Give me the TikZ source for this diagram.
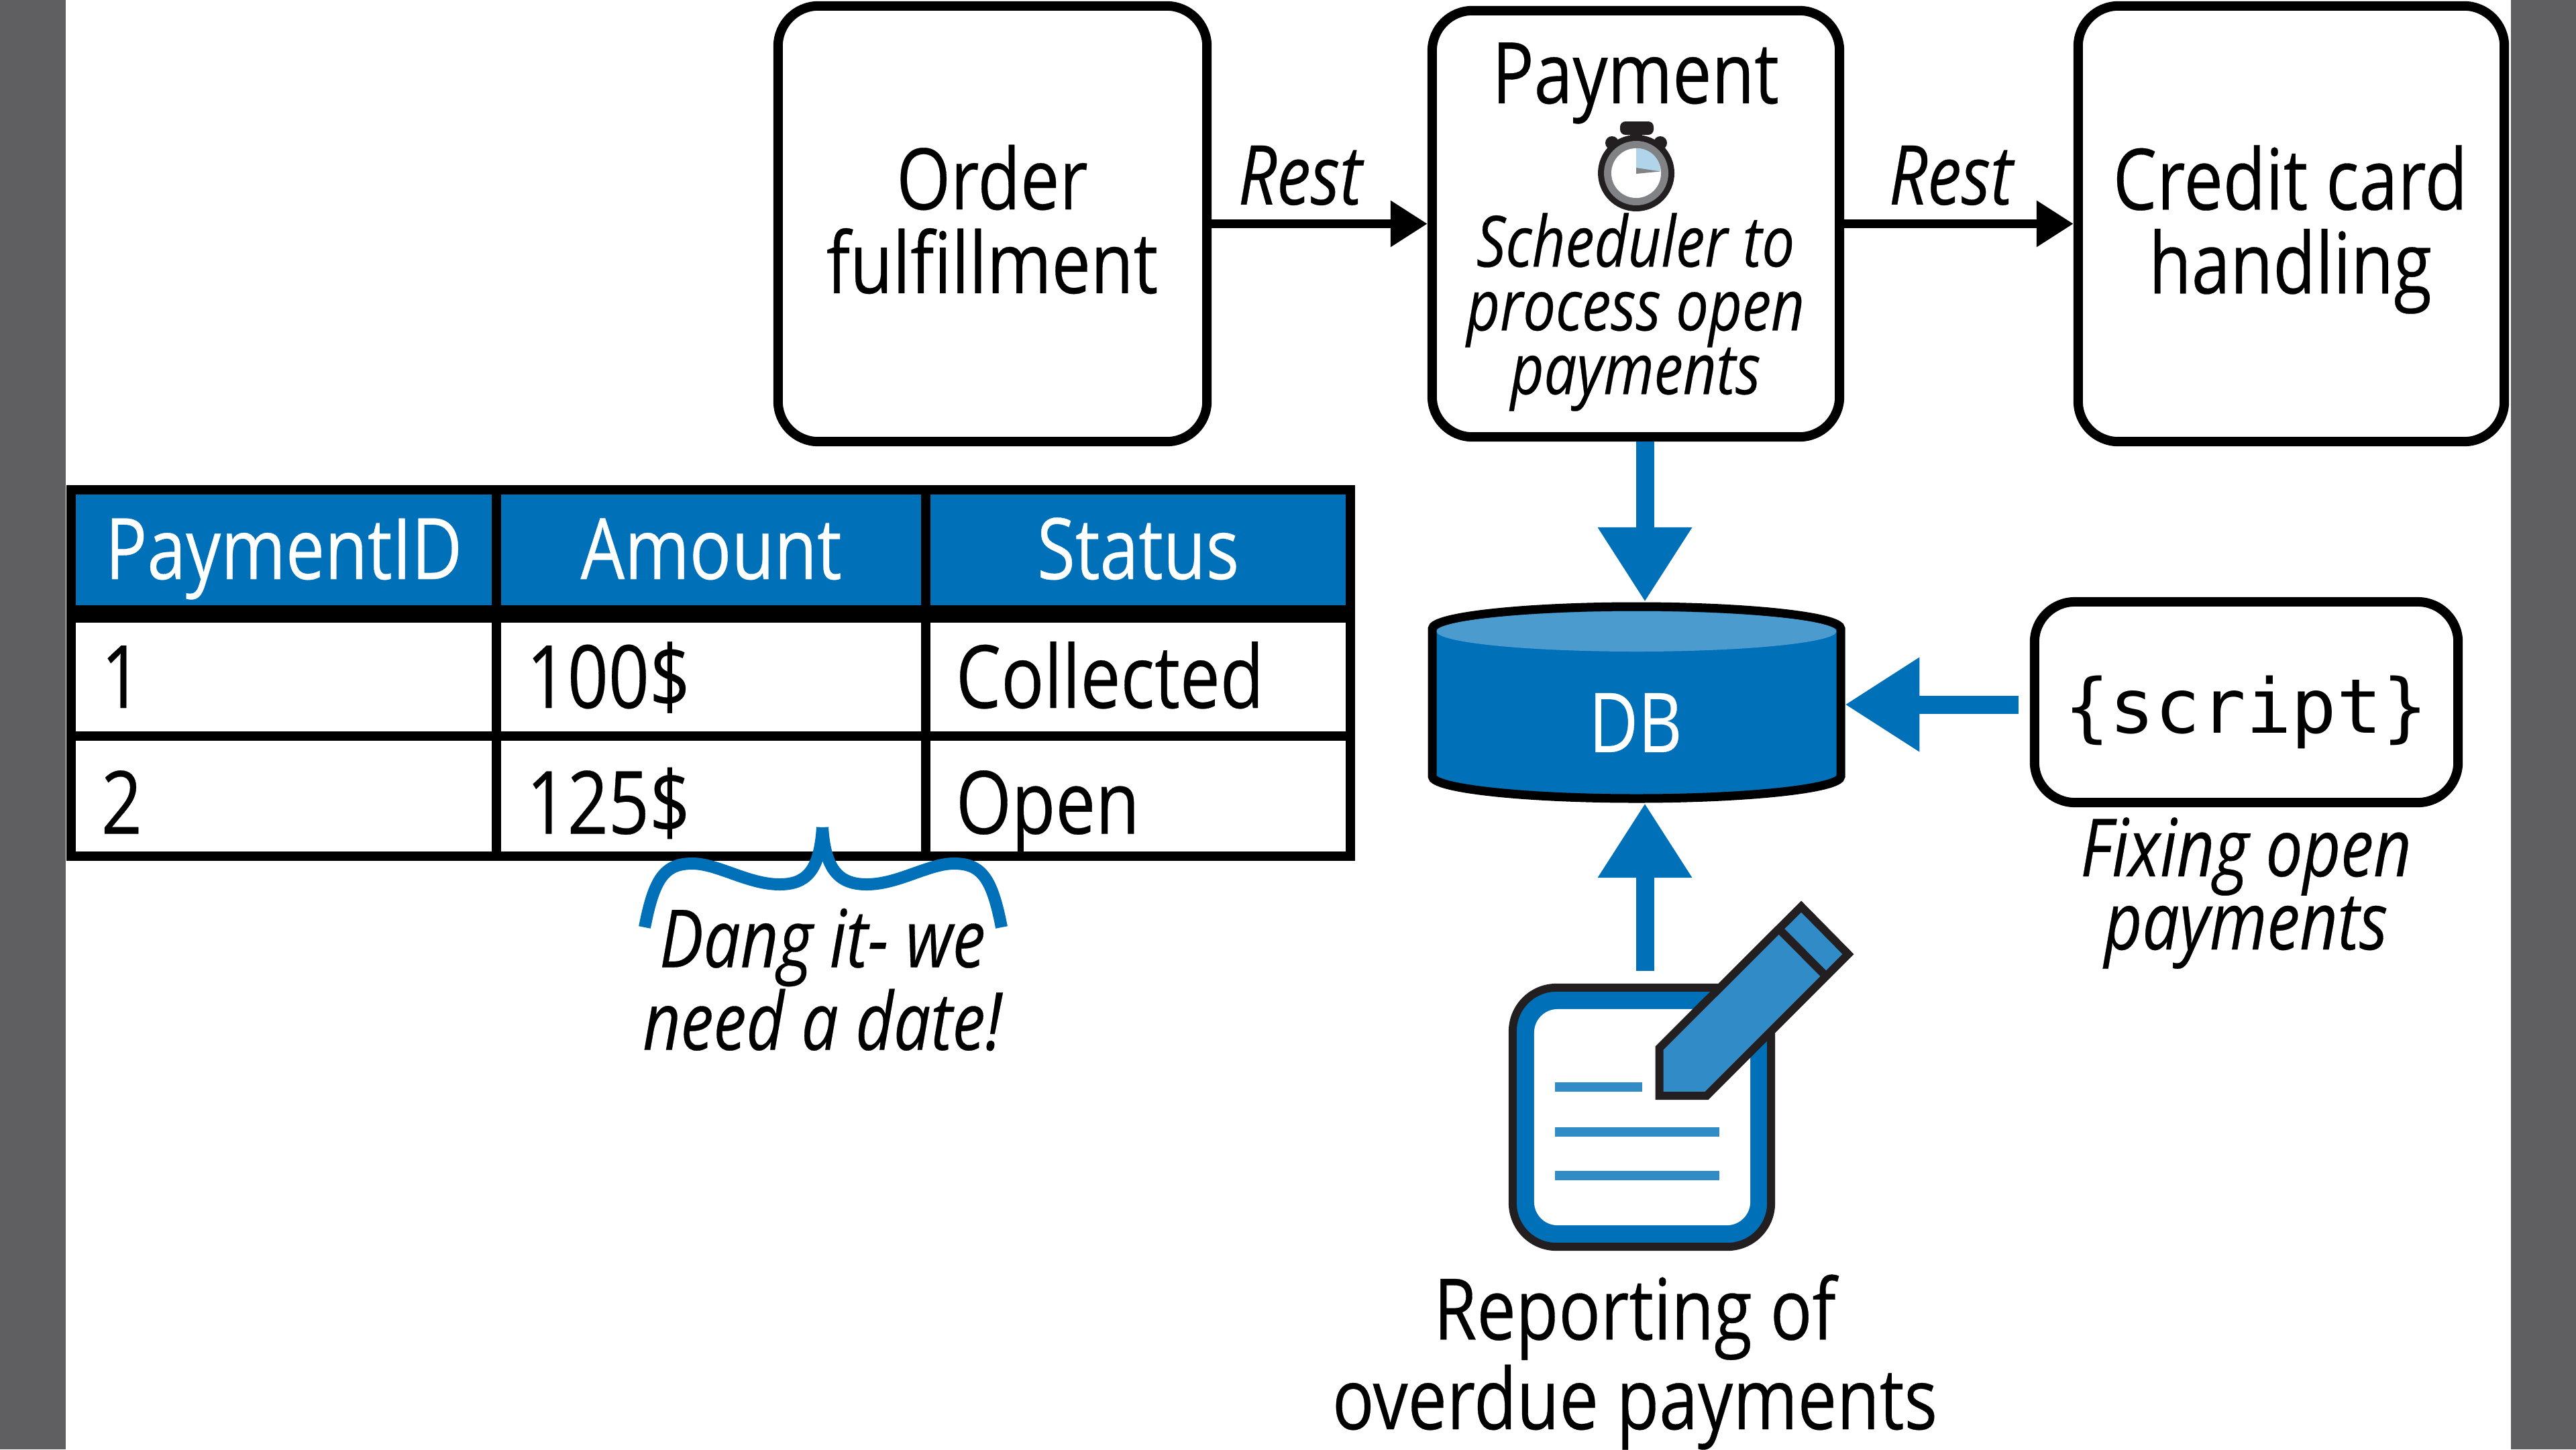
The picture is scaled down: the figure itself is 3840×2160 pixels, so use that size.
\documentclass[tikz,border=0pt]{standalone}
\usepackage{fontspec}
\usepackage{tikz}
\usetikzlibrary{arrows.meta}
\setmainfont[FakeStretch=0.82,FakeBold=0.25]{Open Sans}
\setmonofont{DejaVu Sans Mono}
\definecolor{oblue}{HTML}{0071B9}
\definecolor{olight}{HTML}{308BC6}
\definecolor{otop}{HTML}{4C9BCF}
\definecolor{oink}{HTML}{231F20}
\definecolor{oband}{HTML}{5F5F61}
\definecolor{ogray}{HTML}{808285}
\definecolor{owedge}{HTML}{B0D5EA}
\newcommand{\bigfont}{\fontsize{36pt}{35.5pt}\selectfont}
\newcommand{\cellfont}{\fontsize{37pt}{37pt}\selectfont}
\newcommand{\notefont}{\fontsize{30pt}{27pt}\itshape\selectfont}
\newcommand{\restfont}{\fontsize{35pt}{35pt}\itshape\selectfont}
\newcommand{\wirefont}{\fontsize{34pt}{31pt}\itshape\selectfont}
\tikzset{
	service/.style={draw=black,line width=0.14cm,rounded corners=0.6cm,fill=white,
		minimum width=#1,minimum height=6.49cm},
	cellbox/.style 2 args={draw=black,line width=0.14cm,text width=#1,minimum height=#2,
		inner xsep=0.45cm,inner ysep=0pt,text height=1.04cm,text depth=0.12cm,align=left,font=\cellfont},
	headbox/.style 2 args={cellbox={#1}{#2},fill=oblue,text=white,align=center,text height=0.99cm,font=\bigfont},
	restarrow/.style={-{Triangle[length=0.55cm,width=0.66cm]},line width=0.13cm,black},
	dbarrow/.style={-{Triangle[length=1.11cm,width=1.33cm]},line width=0.27cm,oblue},
	label/.style={align=center,inner sep=0pt}
}
\begin{document}
\begin{tikzpicture}[x=0.01cm,y=-0.01cm]
	\useasboundingbox (0,0) rectangle (3840,2160);
	\fill[oband] (0,0) rectangle (98,2160);
	\fill[oband] (3743,0) rectangle (3840,2160);

	% services
	\node[service=6.39cm] (order) at (1479.5,333.5) {};
	\node[service=6.07cm,minimum height=6.35cm] (payment) at (2438.5,333.5) {};
	\node[service=6.35cm] (credit) at (3415.5,333.5) {};
	\node[label,font=\bigfont] (ordertext) at (1479,327) {Order\\fulfillment};
	\node[label,font=\bigfont] (credittext) at (3414,342) {Credit card\\handling};
	\node[label,font=\bigfont] (paymenttitle) at (2438,124) {Payment};
	\node[label,font=\notefont] (scheduler) at (2438,465) {Scheduler to\\process open\\payments};
	\draw[restarrow] (order.east) -- node[label,font=\restfont,above=0.21cm,pos=0.41] (restleft) {Rest} (payment.west);
	\draw[restarrow] (payment.east) -- node[label,font=\restfont,above=0.21cm,pos=0.465] (restright) {Rest} (credit.west);

	% stopwatch
	\fill[oink,rounded corners=0.08cm] (2415,181) rectangle (2465,201);
	\fill[oink] (2430,195) rectangle (2448,215);
	\fill[oink] (2403,213) circle (10);
	\fill[oink] (2475,213) circle (10);
	\fill[oink] (2439,258) circle (57);
	\fill[ogray] (2439,258) circle (48);
	\fill[white] (2439,258) circle (37);
	\fill[owedge] (2439,257) -- (2439,221) .. controls (2460,221) and (2475,236) .. (2475,255) -- cycle;
	\fill[ogray] (2439,250) -- (2475,255.5) -- (2439,259) -- cycle;

	% table
	\node[headbox={5.44cm}{1.78cm}] (headid) at (423,819.5) {PaymentID};
	\node[headbox={5.5cm}{1.78cm}] (headamount) at (1060,819.5) {Amount};
	\node[headbox={5.43cm}{1.78cm}] (headstatus) at (1696.5,819.5) {Status};
	\node[cellbox={5.44cm}{1.76cm}] (idone) at (423,1009) {1};
	\node[cellbox={5.5cm}{1.76cm}] (amountone) at (1060,1009) {100\$};
	\node[cellbox={5.43cm}{1.76cm}] (statusone) at (1696.5,1009) {Collected};
	\node[cellbox={5.44cm}{1.79cm},text height=1.24cm] (idtwo) at (423,1186.5) {2};
	\node[cellbox={5.5cm}{1.79cm},text height=1.24cm] (amounttwo) at (1060,1186.5) {125\$};
	\node[cellbox={5.43cm}{1.79cm},text height=1.24cm] (statustwo) at (1696.5,1186.5) {Open};

	% brace
	\draw[oblue,line width=0.18cm] (961,1382) .. controls (975,1310) and (990,1287) .. (1032,1287)
		.. controls (1070,1287) and (1115,1318) .. (1162,1318) .. controls (1200,1318) and (1222,1300) .. (1226,1233);
	\draw[oblue,line width=0.18cm] (1493,1382) .. controls (1479,1310) and (1464,1287) .. (1422,1287)
		.. controls (1384,1287) and (1339,1318) .. (1292,1318) .. controls (1254,1318) and (1230,1300) .. (1226,1233);
	\node[label,font=\fontsize{34pt}{33pt}\itshape\selectfont] (dangit) at (1226,1460) {Dang it- we\\need a date!};

	% database
	\node[minimum width=6.21cm,minimum height=3cm,inner sep=0pt,outer sep=0pt] (db) at (2439.5,1047) {};
	\draw[black,fill=oblue,line width=0.13cm] (2135,937) .. controls (2135,919) and (2271,904) .. (2439.5,904)
		.. controls (2608,904) and (2744,919) .. (2744,937) -- (2744,1157)
		.. controls (2744,1175) and (2608,1190) .. (2439.5,1190)
		.. controls (2271,1190) and (2135,1175) .. (2135,1157) -- cycle;
	\fill[otop] (2439.5,941) ellipse [x radius=298,y radius=30];
	\node[label,text=white,font=\fontsize{35pt}{35pt}\selectfont] (dblabel) at (2438,1077) {DB};

	% script
	\node[service=6.31cm,minimum height=2.99cm] (script) at (3348.5,1046.5) {};
	\node[label,font=\ttfamily\fontsize{32pt}{32pt}\selectfont] (scripttext) at (3348,1061) {\{script\}};
	\node[label,font=\wirefont] (fixing) at (3348,1331) {Fixing open\\payments};
	\coordinate (scriptout) at (3009,1050);
	\draw[dbarrow] (scriptout) -- (scriptout -| db.east);

	% reporting
	\node[draw=oink,line width=0.12cm,fill=oblue,rounded corners=0.65cm,minimum width=3.85cm,minimum height=3.86cm] (report) at (2447.5,1665) {};
	\node[fill=white,rounded corners=0.35cm,minimum width=3.22cm,minimum height=3.22cm] (reportpage) at (2448,1665) {};
	\draw[olight,line width=0.14cm] (2318,1620) -- (2448,1620);
	\draw[olight,line width=0.14cm] (2318,1686.5) -- (2563,1686.5);
	\draw[olight,line width=0.14cm] (2318,1752) -- (2563,1752);
	\draw[oink,line width=0.12cm,fill=olight,miter limit=4] (2473.5,1562) -- (2473.5,1633) -- (2544,1633) -- (2755,1422) -- (2685,1351) -- cycle;
	\draw[oink,line width=0.12cm] (2652,1384.5) -- (2721,1454);
	\node[label,font=\fontsize{36pt}{38pt}\selectfont] (reportlabel) at (2437,2030) {Reporting of\\overdue payments};

	% db arrows
	\coordinate (dbin) at (2452,0);
	\coordinate (reporttop) at (2452,1447);
	\draw[dbarrow] (payment.south -| dbin) -- (db.north -| dbin);
	\draw[dbarrow] (reporttop) -- (db.south -| dbin);
\end{tikzpicture}
\end{document}
